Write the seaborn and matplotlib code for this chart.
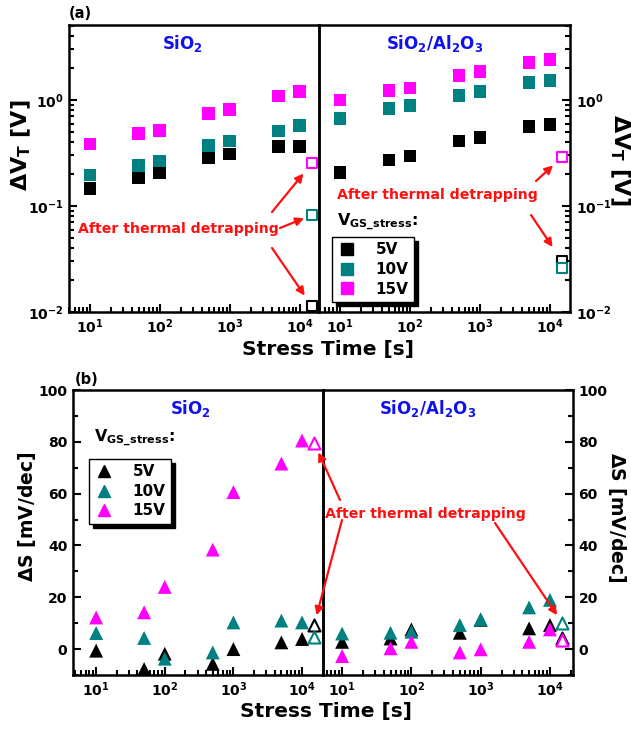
import numpy as np
import pandas as pd
import matplotlib
matplotlib.use("Agg")
import matplotlib.pyplot as plt
import seaborn as sns
from matplotlib.lines import Line2D
from matplotlib.ticker import LogLocator, FuncFormatter, NullFormatter, FixedLocator

# ---------------- data ----------------
times = [10, 50, 100, 500, 1000, 5000, 10000]
t_detrap = 1.5e4
vgs_labels = ["5V", "10V", "15V"]
palette = {"5V": "#000000", "10V": "#008080", "15V": "#FF00FF"}

# (a) Delta V_T [V]
dvt_sio2_5 = [0.147, 0.186, 0.206, 0.286, 0.31, 0.363, 0.363]
dvt_sio2_10 = [0.196, 0.24, 0.266, 0.37, 0.41, 0.51, 0.57]
dvt_sio2_15 = [0.385, 0.485, 0.52, 0.74, 0.82, 1.09, 1.21]
dvt_sio2_detrap = [0.0114, 0.082, 0.253]

dvt_al_5 = [0.208, 0.272, 0.296, 0.41, 0.445, 0.56, 0.59]
dvt_al_10 = [0.67, 0.83, 0.88, 1.11, 1.2, 1.46, 1.54]
dvt_al_15 = [1.0, 1.22, 1.3, 1.71, 1.85, 2.27, 2.42]
dvt_al_detrap = [0.030, 0.0258, 0.29]

# (b) Delta S [mV/dec]
ds_sio2_5 = [-0.6, -7.7, -1.8, -5.7, 0.0, 2.6, 3.9]
ds_sio2_10 = [6.2, 4.3, -3.7, -1.3, 10.3, 11.0, 10.3]
ds_sio2_15 = [12.2, 14.2, 24.0, 38.4, 60.6, 71.6, 80.5]
ds_sio2_detrap = [9.4, 4.5, 79.6]

ds_al_5 = [2.8, 4.1, 7.6, 6.3, 11.3, 8.0, 9.3]
ds_al_10 = [6.0, 6.3, 6.7, 9.3, 11.5, 16.1, 19.0]
ds_al_15 = [-2.7, 0.3, 2.8, -1.3, -0.1, 2.8, 7.6]
ds_al_detrap = [4.1, 10.2, 3.7]

# ---------------- style ----------------
sns.set_style("ticks")
plt.rcParams["font.family"] = ["DejaVu Sans"]
plt.rcParams["font.weight"] = "bold"
plt.rcParams["text.color"] = "black"
plt.rcParams["axes.labelcolor"] = "black"
plt.rcParams["xtick.color"] = "black"
plt.rcParams["ytick.color"] = "black"
plt.rcParams["axes.edgecolor"] = "black"
plt.rcParams["mathtext.fontset"] = "custom"
plt.rcParams["mathtext.rm"] = "DejaVu Sans:bold"
plt.rcParams["mathtext.bf"] = "DejaVu Sans:bold"
plt.rcParams["mathtext.it"] = "DejaVu Sans:bold"
plt.rcParams["mathtext.sf"] = "DejaVu Sans:bold"

W, H = 631, 732
fig = plt.figure(figsize=(W / 100, H / 100), dpi=100)
fig.patch.set_facecolor("white")


def px_axes(l, t, r, b):
    ax = fig.add_axes([l / W, 1 - b / H, (r - l) / W, (b - t) / H])
    ax.set_facecolor("none")
    return ax


axA1 = px_axes(69, 25, 319, 312)
axA2 = px_axes(319, 25, 570, 312)
axB1 = px_axes(73, 390, 323, 675)
axB2 = px_axes(323, 390, 573, 675)


def long_df(series):
    rows = []
    for lab, vals in zip(vgs_labels, series):
        for t, v in zip(times, vals):
            rows.append((t, v, lab))
    return pd.DataFrame(rows, columns=["time", "value", "vgs"])


def draw(ax, series, detrap, marker, s_fill, s_open):
    df = long_df(series)
    sns.scatterplot(data=df, x="time", y="value", hue="vgs", hue_order=vgs_labels,
                    palette=palette, marker=marker, s=s_fill, edgecolor="none",
                    legend=False, ax=ax, zorder=3)
    for lab, v in zip(vgs_labels, detrap):
        sns.scatterplot(x=[t_detrap], y=[v], marker=marker, s=s_open, color="white",
                        edgecolor=palette[lab], linewidth=1.5, legend=False, ax=ax, zorder=4)


draw(axA1, [dvt_sio2_5, dvt_sio2_10, dvt_sio2_15], dvt_sio2_detrap, "s", 85, 60)
draw(axA2, [dvt_al_5, dvt_al_10, dvt_al_15], dvt_al_detrap, "s", 85, 60)
draw(axB1, [ds_sio2_5, ds_sio2_10, ds_sio2_15], ds_sio2_detrap, "^", 100, 75)
draw(axB2, [ds_al_5, ds_al_10, ds_al_15], ds_al_detrap, "^", 100, 75)

logfmt = FuncFormatter(lambda v, _: r"$\mathbf{10^{%d}}$" % int(round(np.log10(v))))

for ax, xl in [(axA1, (5, 1.9e4)), (axA2, (5, 1.93e4)), (axB1, (4.6, 2.02e4)), (axB2, (5.3, 2.15e4))]:
    ax.set_xscale("log")
    ax.set_xlim(*xl)
    ax.xaxis.set_major_locator(FixedLocator([10, 100, 1000, 10000]))
    ax.xaxis.set_major_formatter(logfmt)
    ax.xaxis.set_minor_locator(LogLocator(base=10, subs=np.arange(2, 10), numticks=20))
    ax.xaxis.set_minor_formatter(NullFormatter())
    ax.set_xlabel("")
    ax.set_ylabel("")
    for sp in ax.spines.values():
        sp.set_visible(True)
        sp.set_linewidth(1.8)
        sp.set_color("black")
    ax.tick_params(which="both", direction="in", width=1.5, top=False, labelsize=10, pad=4,
                   colors="black")
    ax.tick_params(which="major", length=6)
    ax.tick_params(which="minor", length=3.5)

for ax in (axA1, axA2):
    ax.set_yscale("log")
    ax.set_ylim(0.01, 5.1)
    ax.yaxis.set_major_locator(FixedLocator([0.01, 0.1, 1]))
    ax.yaxis.set_major_formatter(logfmt)
    ax.yaxis.set_minor_locator(LogLocator(base=10, subs=np.arange(2, 10), numticks=20))
    ax.yaxis.set_minor_formatter(NullFormatter())

for ax in (axB1, axB2):
    ax.set_ylim(-10, 100)
    ax.yaxis.set_major_locator(FixedLocator([0, 20, 40, 60, 80, 100]))
    ax.yaxis.set_minor_locator(FixedLocator([-10, 10, 30, 50, 70, 90]))
    ax.yaxis.set_major_formatter(FuncFormatter(lambda v, _: "%d" % v))

for ax in (axA1, axB1):
    ax.tick_params(which="both", left=True, right=False, labelleft=True, labelright=False)
for ax in (axA2, axB2):
    ax.tick_params(which="both", left=False, right=True, labelleft=False, labelright=True)

# ---------------- titles / labels ----------------
blue = "#1010F0"
axA1.text(0.452, 0.935, r"SiO$_2$", color=blue, fontsize=12, ha="center", va="center", transform=axA1.transAxes)
axA2.text(0.462, 0.935, r"SiO$_2$/Al$_2$O$_3$", color=blue, fontsize=12, ha="center", va="center", transform=axA2.transAxes)
axB1.text(0.468, 0.935, r"SiO$_2$", color=blue, fontsize=12, ha="center", va="center", transform=axB1.transAxes)
axB2.text(0.42, 0.935, r"SiO$_2$/Al$_2$O$_3$", color=blue, fontsize=12, ha="center", va="center", transform=axB2.transAxes)

fig.text(69 / W, 1 - 14 / H, "(a)", fontsize=10.5, ha="left", va="center")
fig.text(75 / W, 1 - 379 / H, "(b)", fontsize=10.5, ha="left", va="center")

fig.text(328 / W, 1 - 350 / H, "Stress Time [s]", fontsize=14.5, ha="center", va="center")
fig.text(326 / W, 1 - 711 / H, "Stress Time [s]", fontsize=14.5, ha="center", va="center")

fig.text(21 / W, 1 - 145 / H, r"$\Delta$V$_\mathrm{T}$ [V]", fontsize=16, rotation=90, ha="center", va="center")
fig.text(620 / W, 1 - 160 / H, r"$\Delta$V$_\mathrm{T}$ [V]", fontsize=16, rotation=270, ha="center", va="center")
fig.text(27 / W, 1 - 517 / H, r"$\Delta$S [mV/dec]", fontsize=13.5, rotation=90, ha="center", va="center")
fig.text(617 / W, 1 - 517 / H, r"$\Delta$S [mV/dec]", fontsize=13.5, rotation=270, ha="center", va="center")

# ---------------- legends ----------------
def make_legend(ax, marker, anchor, title_xy):
    handles = [Line2D([], [], ls="", marker=marker, color=palette[l], markersize=8.5) for l in vgs_labels]
    leg = ax.legend(handles, vgs_labels, loc="upper left", bbox_to_anchor=anchor,
                    frameon=True, fancybox=False, shadow={"color": "black", "alpha": 1, "ox": 3, "oy": -3},
                    fontsize=11, handlelength=1.2, handletextpad=1.3, labelspacing=0.3,
                    borderpad=0.35, borderaxespad=0)
    leg.get_frame().set_edgecolor("black")
    leg.get_frame().set_linewidth(1.0)
    for t in leg.get_texts():
        t.set_color("black")
    ax.text(title_xy[0], title_xy[1], r"V$_{\mathrm{GS\_stress}}$:", fontsize=11.5,
            ha="left", va="center", transform=ax.transAxes)


make_legend(axA2, "s", (0.052, 0.261), (0.07, 0.314))
make_legend(axB1, "^", (0.064, 0.758), (0.086, 0.832))

# ---------------- annotations ----------------
red = "#FF1010"
fig.text(178 / W, 1 - 229 / H, "After thermal detrapping", color=red, fontsize=10.2, ha="center", va="center")
fig.text(437 / W, 1 - 195 / H, "After thermal detrapping", color=red, fontsize=10.2, ha="center", va="center")
fig.text(425 / W, 1 - 514 / H, "After thermal detrapping", color=red, fontsize=10.2, ha="center", va="center")


def arrow(ax_draw, ax_data, yval, start_px, shrink):
    ax_draw.annotate("", xy=(t_detrap, yval), xycoords=ax_data.transData,
                     xytext=(start_px[0] / W, 1 - start_px[1] / H), textcoords="figure fraction",
                     arrowprops=dict(arrowstyle="-|>", color=red, lw=1.6, mutation_scale=12,
                                     shrinkA=0, shrinkB=shrink),
                     annotation_clip=False, zorder=6)


arrow(axA2, axA1, dvt_sio2_detrap[2], (272, 212), 9.5)
arrow(axA2, axA1, dvt_sio2_detrap[1], (280, 228), 6)
arrow(axA2, axA1, dvt_sio2_detrap[0], (272, 248), 9)
arrow(axA2, axA2, dvt_al_detrap[2], (536, 181), 9)
arrow(axA2, axA2, dvt_al_detrap[0], (531, 215), 12.5)
arrow(axB2, axB1, ds_sio2_detrap[2], (340, 500), 7.5)
arrow(axB2, axB1, ds_sio2_detrap[0], (342, 520), 7)
arrow(axB2, axB2, ds_al_detrap[1], (495, 523), 6.5)

fig.savefig("out.png", dpi=100, facecolor="white")
